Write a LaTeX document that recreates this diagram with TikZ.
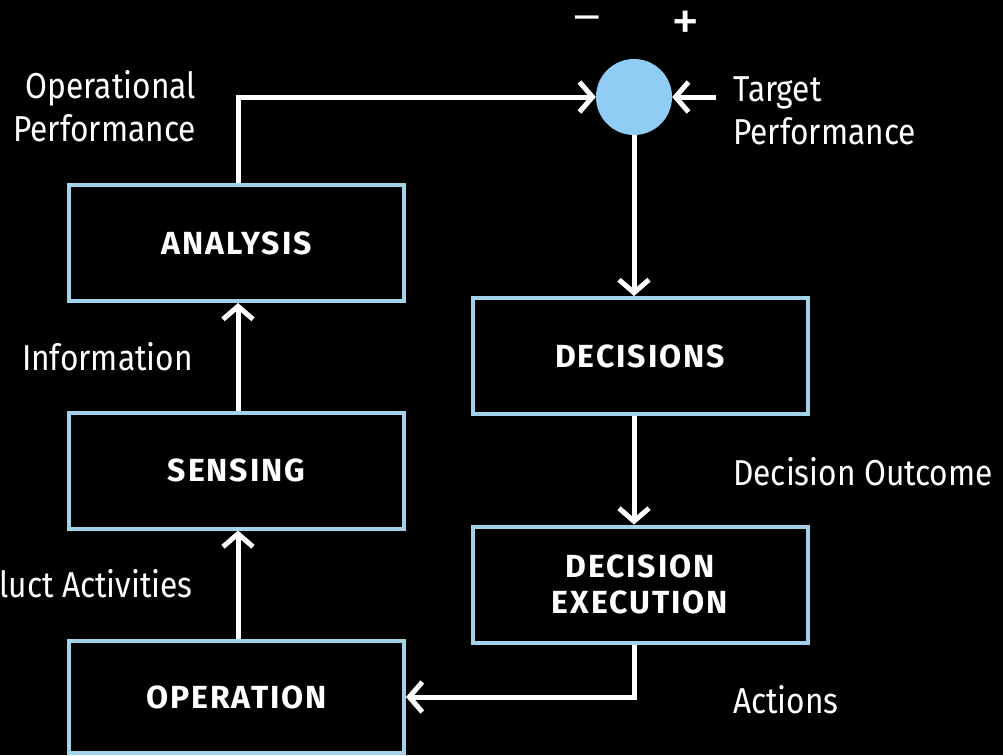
\documentclass[tikz,border=0pt]{standalone}
\usepackage{fontspec}
\usepackage{graphicx}
\setmainfont{Fira Sans}
\newfontfamily\lblfont[FakeStretch=0.88]{Fira Sans}
\newfontfamily\boxfont[LetterSpace=6]{Fira Sans}
\usetikzlibrary{arrows.meta}
\definecolor{boxblue}{HTML}{A2D2EA}
\definecolor{sumblue}{HTML}{8FCDF4}
\tikzset{
  stage/.style={draw=boxblue, line width=4pt, fill=black, minimum width=335pt, minimum height=116pt,
    text=white, align=center, font=\boxfont\bfseries\fontsize{32}{36}\selectfont, inner sep=0pt},
  lbl/.style={text=white, font=\lblfont\fontsize{36}{43}\selectfont, inner sep=0pt},
  sign/.style={text=white, font=\fontsize{42}{42}\selectfont, inner sep=0pt},
  arr/.style={draw=white, line width=5pt, -{Straight Barb[length=13pt,width=30pt]}},
  sumnode/.style={circle, fill=sumblue, minimum size=76pt, inner sep=0pt}
}
\begin{document}
\begin{tikzpicture}[x=1pt,y=1pt]
\fill[black] (0,0) rectangle (1003,-755);
\useasboundingbox (0,0) rectangle (1003,-755);
\clip (0,0) rectangle (1003,-755);
\node[stage] (an) at (236.5,-243) {ANALYSIS};
\node[stage] (se) at (236.5,-470.5) {SENSING};
\node[stage, minimum height=112pt] (op) at (236.5,-697) {OPERATION};
\node[stage] (de) at (640,-356) {DECISIONS};
\node[stage] (ex) at (640,-584.5) {DECISION\\EXECUTION};
\node[sumnode] (sum) at (634,-97) {};
\coordinate (tgt) at (716,-97);
\draw[arr] (an.north -| 238,0) |- (sum.west);
\draw[arr] (tgt) -- (sum.east);
\draw[arr] (sum.south) -- (sum.south |- de.north);
\draw[arr] (sum.south |- de.south) -- (sum.south |- ex.north);
\draw[arr] (sum.south |- ex.south) |- (op.east);
\draw[arr] (238,0 |- se.north) -- (238,0 |- an.south);
\draw[arr] (238,0 |- op.north) -- (238,0 |- se.south);
\node[lbl, align=right, anchor=east] (lop) at (196,-106) {Operational\\Performance};
\node[lbl, align=left, anchor=west] (ltp) at (733,-111) {Target\\Performance};
\node[lbl, anchor=east] (linf) at (193,-357) {Information};
\node[lbl, anchor=east] (lpa) at (193,-584) {luct Activities};
\node[lbl, anchor=west] (ldo) at (733,-472) {Decision Outcome};
\node[lbl, anchor=west] (lac) at (733,-700) {Actions};
\node[sign] (lminus) at (587,-24) {\scalebox{1.5}[1]{−}};
\node[sign] (lplus) at (686,-26) {\scalebox{1.35}{+}};
\end{tikzpicture}
\end{document}
